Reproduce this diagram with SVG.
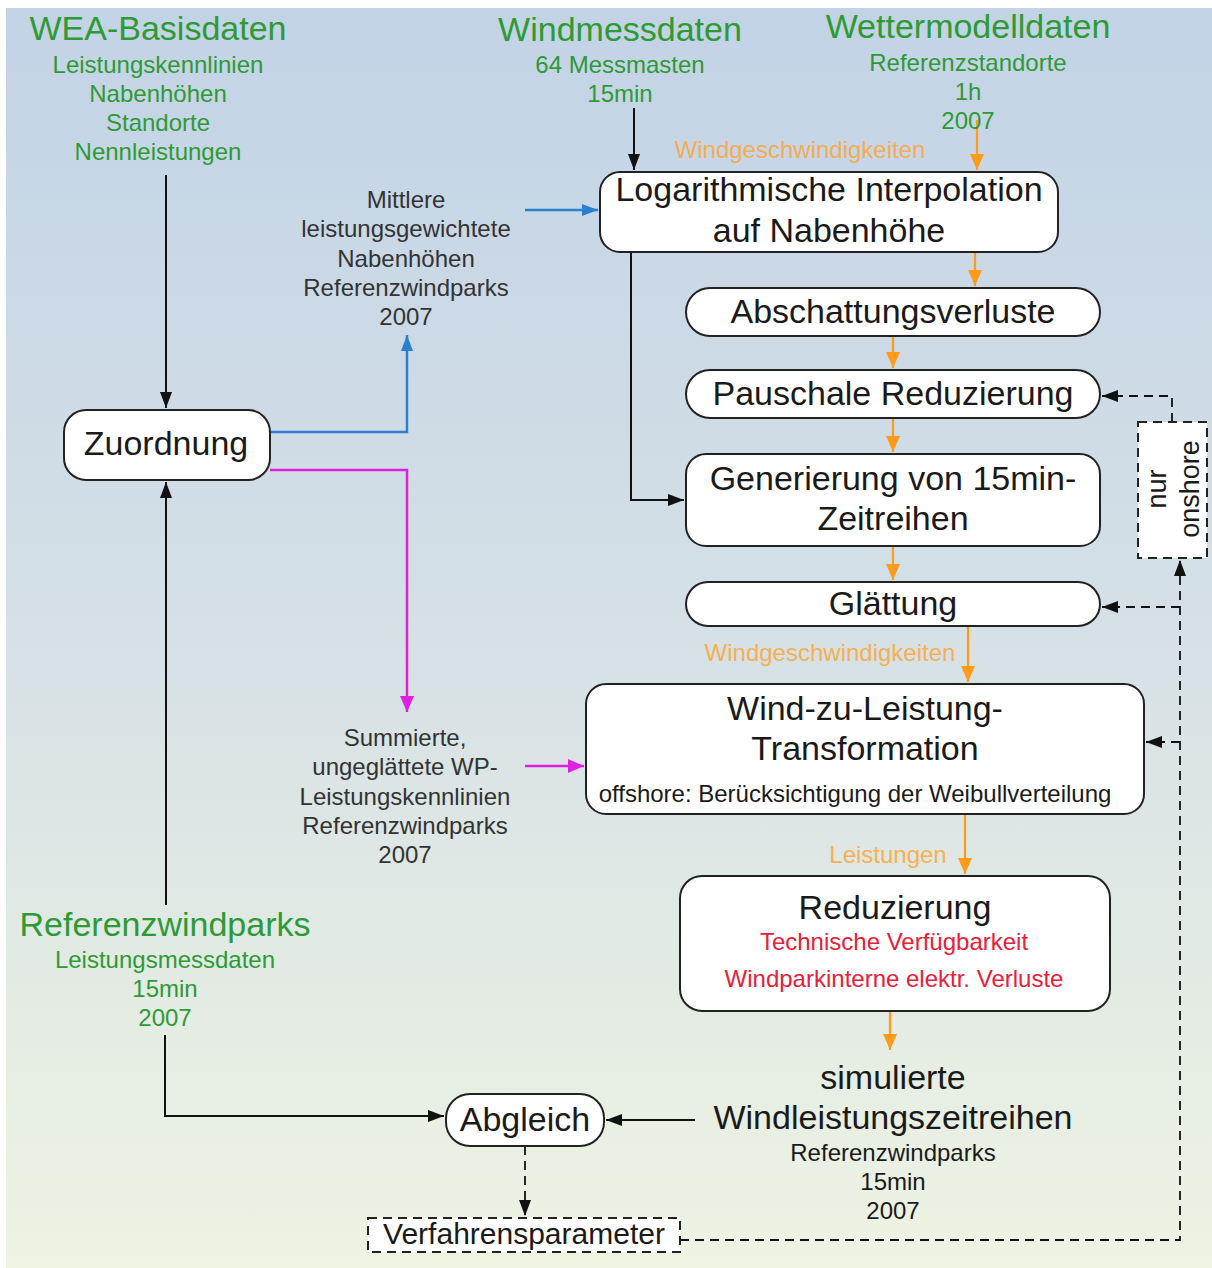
<svg xmlns="http://www.w3.org/2000/svg" width="1212" height="1268" viewBox="0 0 1212 1268">
<defs>
<linearGradient id="bg" x1="0" y1="0" x2="0" y2="1">
<stop offset="0" stop-color="#c3d3e6"/>
<stop offset="0.45" stop-color="#d3dfe6"/>
<stop offset="1" stop-color="#eef3e2"/>
</linearGradient>
<marker id="ab" viewBox="0 0 16 12" refX="16" refY="6" markerWidth="16" markerHeight="12" markerUnits="userSpaceOnUse" orient="auto"><path d="M0,0 L16,6 L0,12 Z" fill="#111"/></marker>
<marker id="ao" viewBox="0 0 16 14" refX="16" refY="7" markerWidth="16" markerHeight="14" markerUnits="userSpaceOnUse" orient="auto"><path d="M0,0 L16,7 L0,14 Z" fill="#ff9a1a"/></marker>
<marker id="abl" viewBox="0 0 16 12" refX="16" refY="6" markerWidth="16" markerHeight="12" markerUnits="userSpaceOnUse" orient="auto"><path d="M0,0 L16,6 L0,12 Z" fill="#2a7fd0"/></marker>
<marker id="am" viewBox="0 0 16 14" refX="16" refY="7" markerWidth="16" markerHeight="14" markerUnits="userSpaceOnUse" orient="auto"><path d="M0,0 L16,7 L0,14 Z" fill="#e020e0"/></marker>
</defs>
<style>
text{font-family:"Liberation Sans",Arial,sans-serif;text-anchor:middle}
.big{font-size:34px;fill:#1a1a1a}
.sm{font-size:24px;fill:#333}
.gt{font-size:34px;fill:#2e9a35}
.gs{font-size:24px;fill:#2e9a35}
.ol{font-size:24px;fill:#ffa32e;opacity:0.8}
.red{font-size:24px;fill:#e8203a}
.box{fill:#fff;stroke:#222;stroke-width:2}
.dbox{fill:#fff;stroke:#222;stroke-width:2;stroke-dasharray:9 6}
.k{fill:none;stroke:#111;stroke-width:2}
.kd{fill:none;stroke:#111;stroke-width:1.8;stroke-dasharray:9 6}
.o{fill:none;stroke:#ff9a1a;stroke-width:2.2}
.b{fill:none;stroke:#2a7fd0;stroke-width:2.5}
.m{fill:none;stroke:#e020e0;stroke-width:2.5}
</style>
<rect x="0" y="0" width="1212" height="1268" fill="#fff"/>
<rect x="6" y="8" width="1206" height="1260" fill="url(#bg)"/>

<g id="connectors">
<path class="k" d="M166,175 V408" marker-end="url(#ab)"/>
<path class="k" d="M166,905 V482" marker-end="url(#ab)"/>
<path class="k" d="M165,1035 V1116 H444" marker-end="url(#ab)"/>
<path class="k" d="M634,108 V170" marker-end="url(#ab)"/>
<path class="k" d="M631,172 V500 H684" marker-end="url(#ab)"/>
<path class="o" d="M977,120 V170" marker-end="url(#ao)"/>
<path class="o" d="M975,172 V286" marker-end="url(#ao)"/>
<path class="o" d="M893,336 V368" marker-end="url(#ao)"/>
<path class="o" d="M893,418 V452" marker-end="url(#ao)"/>
<path class="o" d="M893,546 V580" marker-end="url(#ao)"/>
<path class="o" d="M968,626 V682" marker-end="url(#ao)"/>
<path class="o" d="M965,814 V874" marker-end="url(#ao)"/>
<path class="o" d="M890,1011 V1050" marker-end="url(#ao)"/>
<path class="b" d="M270,432 H407 V335" marker-end="url(#abl)"/>
<path class="b" d="M525,210 H598" marker-end="url(#abl)"/>
<path class="m" d="M270,470 H407 V712" marker-end="url(#am)"/>
<path class="m" d="M525,766 H584" marker-end="url(#am)"/>
<path class="k" d="M695,1120 H606" marker-end="url(#ab)"/>
<path class="kd" d="M525,1146 V1216" marker-end="url(#ab)"/>
<path class="kd" d="M680,1240 H1180 V560" marker-end="url(#ab)"/>
<path class="kd" d="M1180,607 H1102" marker-end="url(#ab)"/>
<path class="kd" d="M1180,742 H1146" marker-end="url(#ab)"/>
<path class="kd" d="M1172,422 V396 H1102" marker-end="url(#ab)"/>
</g>

<g id="wea-basisdaten">
<text class="gt" x="158" y="40">WEA-Basisdaten</text>
<text class="gs" x="158" y="73">Leistungskennlinien</text>
<text class="gs" x="158" y="102">Nabenhöhen</text>
<text class="gs" x="158" y="131">Standorte</text>
<text class="gs" x="158" y="160">Nennleistungen</text>
</g>
<g id="windmessdaten">
<text class="gt" x="620" y="41">Windmessdaten</text>
<text class="gs" x="620" y="73">64 Messmasten</text>
<text class="gs" x="620" y="102">15min</text>
</g>
<g id="wettermodelldaten">
<text class="gt" x="968" y="38">Wettermodelldaten</text>
<text class="gs" x="968" y="71">Referenzstandorte</text>
<text class="gs" x="968" y="100">1h</text>
<text class="gs" x="968" y="129">2007</text>
</g>
<text class="ol" x="800" y="158">Windgeschwindigkeiten</text>

<g id="logarithmische-interpolation">
<rect class="box" x="600" y="172" width="458" height="80" rx="20"/>
<text class="big" x="829" y="201">Logarithmische Interpolation</text>
<text class="big" x="829" y="242">auf Nabenhöhe</text>
</g>
<g id="abschattungsverluste">
<rect class="box" x="686" y="288" width="414" height="48" rx="24"/>
<text class="big" x="893" y="323">Abschattungsverluste</text>
</g>
<g id="pauschale-reduzierung">
<rect class="box" x="686" y="370" width="414" height="48" rx="24"/>
<text class="big" x="893" y="405">Pauschale Reduzierung</text>
</g>
<g id="generierung">
<rect class="box" x="686" y="454" width="414" height="92" rx="20"/>
<text class="big" x="893" y="490">Generierung von 15min-</text>
<text class="big" x="893" y="530">Zeitreihen</text>
</g>
<g id="glaettung">
<rect class="box" x="686" y="582" width="414" height="44" rx="22"/>
<text class="big" x="893" y="615">Glättung</text>
</g>
<g id="nur-onshore">
<rect class="dbox" x="1138" y="422" width="69" height="136"/>
<text class="big" style="font-size:27px" transform="translate(1166,489) rotate(-90)" x="0" y="0">nur</text>
<text class="big" style="font-size:27px" transform="translate(1199,489) rotate(-90)" x="0" y="0">onshore</text>
</g>
<g id="zuordnung">
<rect class="box" x="64" y="410" width="206" height="70" rx="22"/>
<text class="big" x="166" y="455">Zuordnung</text>
</g>
<g id="mittlere-nabenhoehen">
<text class="sm" x="406" y="208">Mittlere</text>
<text class="sm" x="406" y="237">leistungsgewichtete</text>
<text class="sm" x="406" y="267">Nabenhöhen</text>
<text class="sm" x="406" y="296">Referenzwindparks</text>
<text class="sm" x="406" y="325">2007</text>
</g>
<g id="summierte-kennlinien">
<text class="sm" x="405" y="746">Summierte,</text>
<text class="sm" x="405" y="775">ungeglättete WP-</text>
<text class="sm" x="405" y="805">Leistungskennlinien</text>
<text class="sm" x="405" y="834">Referenzwindparks</text>
<text class="sm" x="405" y="863">2007</text>
</g>
<text class="ol" x="830" y="661">Windgeschwindigkeiten</text>
<g id="wind-zu-leistung">
<rect class="box" x="586" y="684" width="558" height="130" rx="20"/>
<text class="big" x="865" y="720">Wind-zu-Leistung-</text>
<text class="big" x="865" y="760">Transformation</text>
<text class="sm" style="fill:#1a1a1a" x="855" y="802">offshore: Berücksichtigung der Weibullverteilung</text>
</g>
<text class="ol" x="888" y="863">Leistungen</text>
<g id="reduzierung">
<rect class="box" x="680" y="876" width="430" height="135" rx="22"/>
<text class="big" x="895" y="919">Reduzierung</text>
<text class="red" x="894" y="950">Technische Verfügbarkeit</text>
<text class="red" x="894" y="987">Windparkinterne elektr. Verluste</text>
</g>
<g id="simulierte-zeitreihen">
<text class="big" x="893" y="1089">simulierte</text>
<text class="big" x="893" y="1129">Windleistungszeitreihen</text>
<text class="sm" style="fill:#1a1a1a" x="893" y="1161">Referenzwindparks</text>
<text class="sm" style="fill:#1a1a1a" x="893" y="1190">15min</text>
<text class="sm" style="fill:#1a1a1a" x="893" y="1219">2007</text>
</g>
<g id="referenzwindparks">
<text class="gt" x="165" y="936">Referenzwindparks</text>
<text class="gs" x="165" y="968">Leistungsmessdaten</text>
<text class="gs" x="165" y="997">15min</text>
<text class="gs" x="165" y="1026">2007</text>
</g>
<g id="abgleich">
<rect class="box" x="446" y="1094" width="158" height="52" rx="24"/>
<text class="big" x="525" y="1131">Abgleich</text>
</g>
<g id="verfahrensparameter">
<rect class="dbox" x="368" y="1218" width="312" height="34"/>
<text class="big" style="font-size:30px" x="524" y="1244">Verfahrensparameter</text>
</g>
</svg>
